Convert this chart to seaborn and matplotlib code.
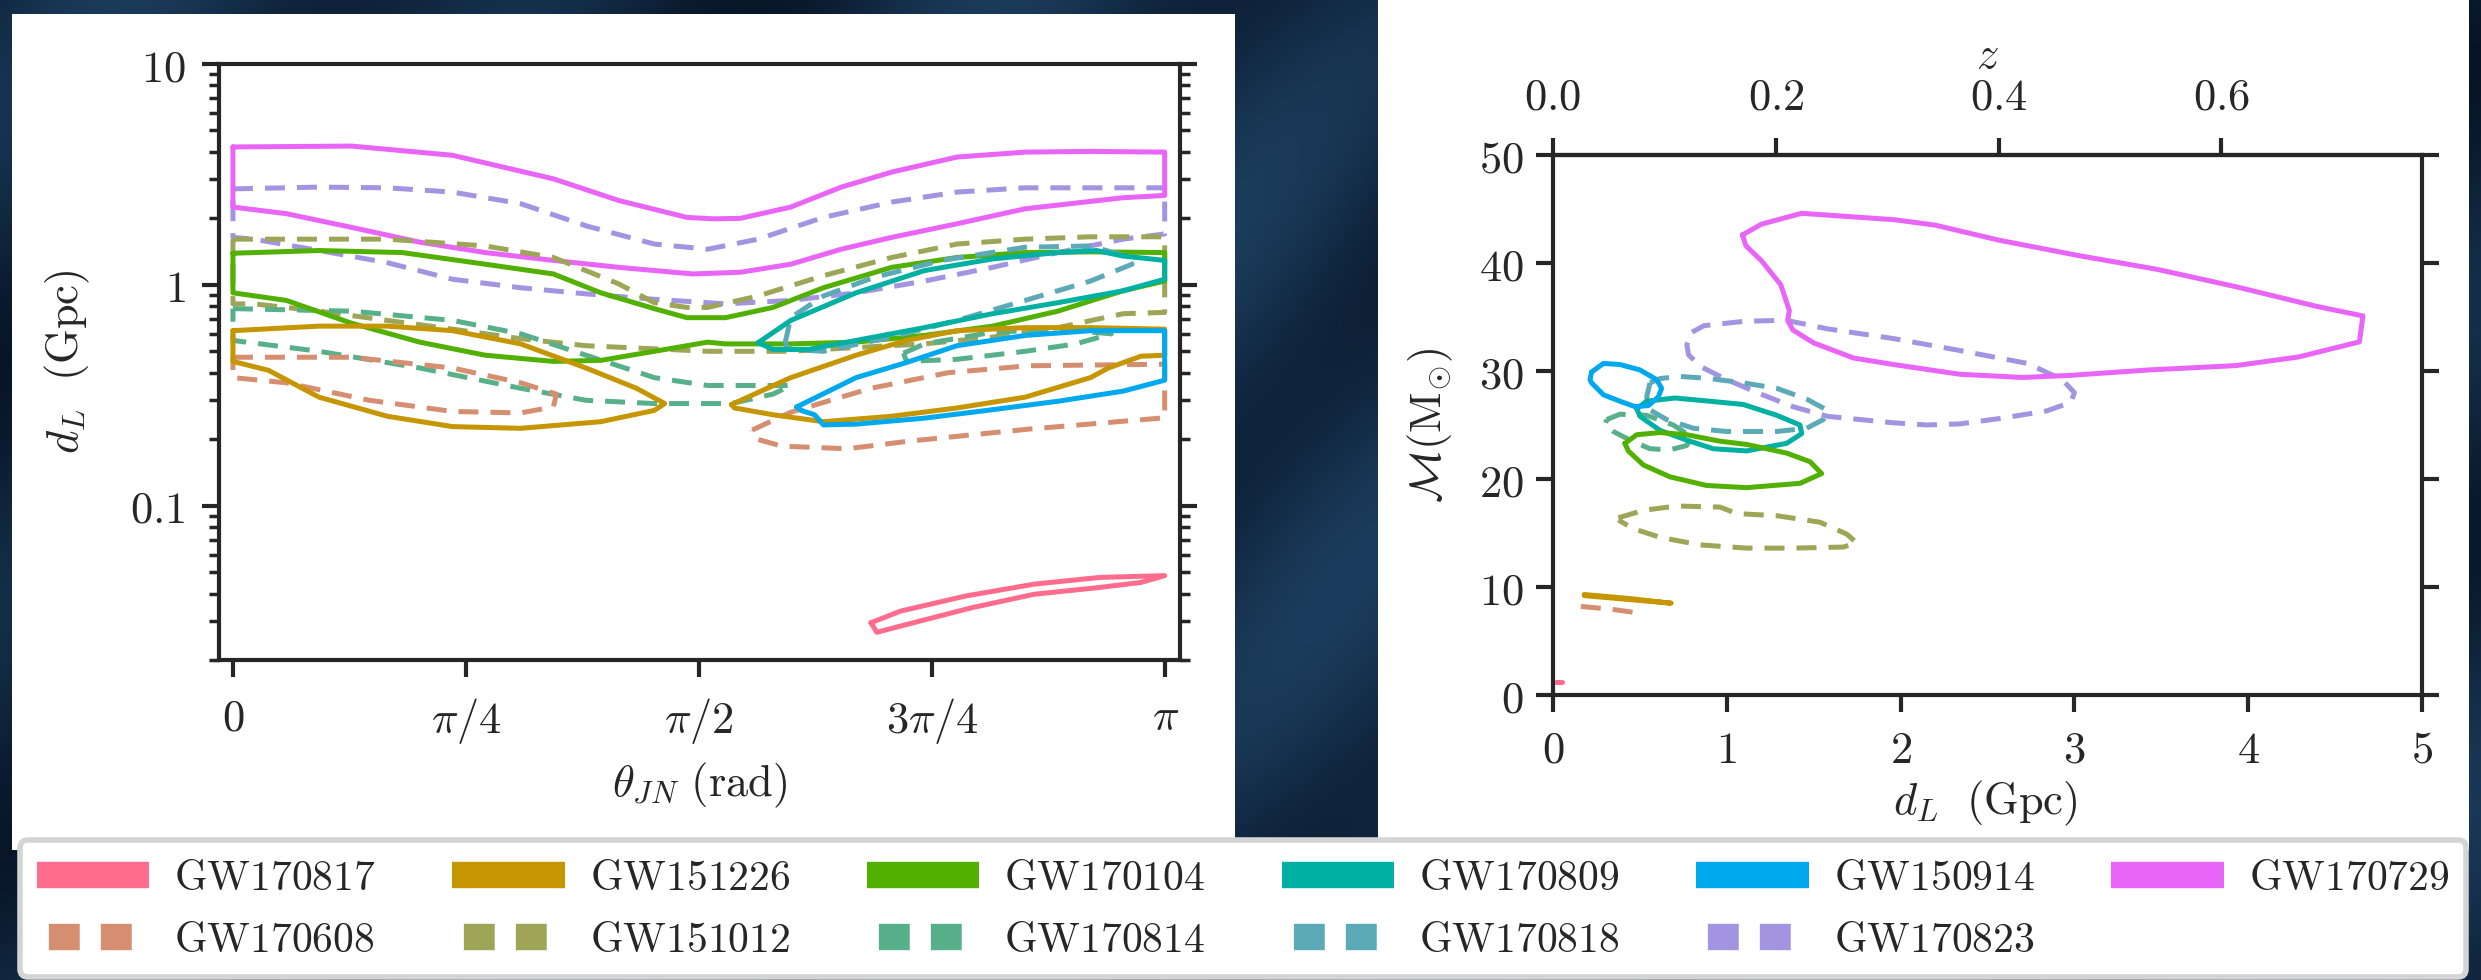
import numpy as np
import matplotlib
matplotlib.use("Agg")
import matplotlib.pyplot as plt
import seaborn as sns
from matplotlib.lines import Line2D
from matplotlib.patches import Rectangle
from matplotlib.ticker import FixedLocator, LogLocator, NullFormatter

# ---------------- data: left panel (theta_JN [rad], d_L [Gpc]) ----------------
gw170817_theta = [2.15, 2.25, 2.47, 2.70, 2.92, 3.14, 3.06, 2.92, 2.70, 2.49, 2.25, 2.17, 2.15]
gw170817_dl = [0.0295, 0.0333, 0.039, 0.0441, 0.0473, 0.0482, 0.0449, 0.0426, 0.0397, 0.0345, 0.0285, 0.0267, 0.0295]

gw151226_theta_a = [0, 0.29, 0.52, 0.74, 0.97, 1.19, 1.36, 1.455, 1.42, 1.24, 0.97, 0.74, 0.52, 0.29, 0.12, 0, 0]
gw151226_dl_a = [0.62, 0.65, 0.65, 0.62, 0.54, 0.42, 0.34, 0.29, 0.27, 0.24, 0.224, 0.228, 0.254, 0.31, 0.41, 0.45, 0.62]
gw151226_theta_b = [1.68, 1.88, 2.10, 2.27, 2.44, 2.67, 2.89, 3.14, 3.14, 3.06, 2.95, 2.89, 2.67, 2.44, 2.22, 1.99, 1.82, 1.69, 1.68]
gw151226_dl_b = [0.287, 0.38, 0.48, 0.56, 0.62, 0.64, 0.64, 0.63, 0.48, 0.475, 0.42, 0.38, 0.31, 0.277, 0.254, 0.24, 0.258, 0.277, 0.287]

gw170104_theta = [0, 0.29, 0.57, 0.85, 1.08, 1.24, 1.42, 1.53, 1.60, 1.66, 1.82, 1.99, 2.22, 2.44, 2.67, 2.89, 3.14,
                  3.14, 3.00, 2.78, 2.56, 2.33, 2.10, 1.88, 1.66, 1.60, 1.42, 1.24, 1.08, 0.85, 0.63, 0.40, 0.18, 0, 0]
gw170104_dl = [1.39, 1.43, 1.40, 1.24, 1.12, 0.92, 0.78, 0.71, 0.71, 0.71, 0.79, 0.97, 1.20, 1.33, 1.40, 1.41, 1.40,
               1.04, 0.94, 0.76, 0.65, 0.59, 0.55, 0.54, 0.54, 0.55, 0.50, 0.455, 0.45, 0.48, 0.55, 0.67, 0.85, 0.92, 1.39]

gw170809_theta = [1.77, 1.88, 2.10, 2.33, 2.56, 2.78, 2.91, 3.00, 3.14, 3.14, 3.00, 2.78, 2.56, 2.33, 2.10, 1.94, 1.82, 1.77]
gw170809_dl = [0.547, 0.69, 0.92, 1.16, 1.31, 1.40, 1.43, 1.35, 1.29, 1.06, 0.94, 0.83, 0.74, 0.64, 0.56, 0.51, 0.51, 0.547]

gw150914_theta = [1.90, 2.10, 2.27, 2.44, 2.67, 2.89, 3.14, 3.14, 3.00, 2.78, 2.56, 2.33, 2.10, 1.99, 1.96, 1.915, 1.90]
gw150914_dl = [0.28, 0.38, 0.445, 0.53, 0.59, 0.62, 0.62, 0.37, 0.33, 0.297, 0.272, 0.249, 0.234, 0.232, 0.258, 0.27, 0.28]

gw170729_theta = [0, 0.40, 0.74, 1.08, 1.30, 1.53, 1.62, 1.71, 1.88, 2.05, 2.22, 2.44, 2.67, 2.89, 3.14,
                  3.14, 3.00, 2.67, 2.44, 2.22, 2.05, 1.88, 1.71, 1.55, 1.30, 1.08, 0.85, 0.63, 0.40, 0.18, 0, 0]
gw170729_dl = [4.21, 4.25, 3.86, 3.02, 2.41, 2.02, 1.99, 2.00, 2.25, 2.77, 3.24, 3.79, 3.99, 4.02, 3.99,
               2.54, 2.48, 2.21, 1.89, 1.64, 1.45, 1.24, 1.14, 1.12, 1.20, 1.29, 1.40, 1.56, 1.82, 2.10, 2.25, 4.21]

gw170608_theta_a = [0, 0.40, 0.74, 0.97, 1.09, 1.08, 0.97, 0.74, 0.46, 0.18, 0, 0]
gw170608_dl_a = [0.47, 0.47, 0.42, 0.36, 0.32, 0.28, 0.263, 0.267, 0.30, 0.36, 0.38, 0.47]
gw170608_theta_b = [1.75, 1.88, 2.15, 2.41, 2.68, 3.14, 3.14, 2.68, 2.28, 2.07, 1.85, 1.76, 1.75]
gw170608_dl_b = [0.22, 0.265, 0.34, 0.40, 0.43, 0.437, 0.25, 0.222, 0.196, 0.181, 0.186, 0.201, 0.22]

gw151012_theta = [0, 0.52, 0.85, 1.08, 1.30, 1.42, 1.53, 1.60, 1.77, 1.99, 2.22, 2.44, 2.67, 2.89, 3.14,
                  3.14, 3.00, 2.78, 2.56, 2.33, 2.10, 1.88, 1.60, 1.19, 0.97, 0.74, 0.52, 0.29, 0.07, 0, 0]
gw151012_dl = [1.61, 1.61, 1.50, 1.33, 1.01, 0.83, 0.79, 0.79, 0.89, 1.10, 1.33, 1.53, 1.61, 1.65, 1.65,
               0.75, 0.74, 0.64, 0.58, 0.54, 0.52, 0.50, 0.50, 0.53, 0.57, 0.63, 0.69, 0.76, 0.82, 0.82, 1.61]

gw170814_theta_a = [0, 0.40, 0.74, 0.97, 1.19, 1.42, 1.60, 1.88, 1.82, 1.68, 1.54, 1.42, 1.19, 0.97, 0.63, 0.29, 0, 0]
gw170814_dl_a = [0.78, 0.76, 0.69, 0.60, 0.48, 0.38, 0.35, 0.35, 0.32, 0.29, 0.29, 0.29, 0.30, 0.34, 0.42, 0.50, 0.56, 0.78]
gw170814_theta_b = [2.26, 2.33, 2.56, 2.78, 2.96, 2.84, 2.67, 2.44, 2.27, 2.26]
gw170814_dl_b = [0.49, 0.54, 0.61, 0.63, 0.60, 0.54, 0.50, 0.46, 0.45, 0.49]

gw170818_theta = [1.86, 1.88, 1.99, 2.16, 2.39, 2.67, 2.89, 3.00, 3.03, 2.89, 2.67, 2.44, 2.22, 1.99, 1.88, 1.86]
gw170818_dl = [0.54, 0.71, 0.89, 1.08, 1.29, 1.48, 1.50, 1.36, 1.24, 1.04, 0.85, 0.69, 0.58, 0.50, 0.51, 0.54]

gw170823_theta = [0, 0.29, 0.52, 0.74, 0.97, 1.19, 1.42, 1.60, 1.77, 1.99, 2.22, 2.44, 2.67, 3.14,
                  3.14, 3.00, 2.78, 2.56, 2.33, 2.10, 1.88, 1.66, 1.42, 1.19, 0.97, 0.74, 0.52, 0.29, 0.07, 0, 0]
gw170823_dl = [2.72, 2.77, 2.75, 2.63, 2.33, 1.85, 1.53, 1.45, 1.61, 2.02, 2.37, 2.63, 2.75, 2.75,
               1.70, 1.61, 1.40, 1.20, 1.04, 0.92, 0.85, 0.82, 0.86, 0.91, 0.97, 1.06, 1.26, 1.43, 1.61, 1.64, 2.72]

# ---------------- data: right panel (d_L [Gpc], chirp mass [Msun]) ----------------
gw170817_dist = [0.02, 0.037, 0.05]
gw170817_mc = [1.19, 1.19, 1.19]

gw151226_dist = [0.18, 0.43, 0.68, 0.43, 0.18]
gw151226_mc = [9.3, 8.95, 8.5, 8.85, 9.2]

gw170608_dist = [0.16, 0.33, 0.49]
gw170608_mc = [8.2, 7.95, 7.6]

gw170104_dist = [0.414, 0.482, 0.616, 0.769, 0.961, 1.114, 1.344, 1.479, 1.546, 1.421, 1.114, 0.884, 0.673, 0.520, 0.433, 0.414]
gw170104_mc = [23.3, 24.1, 24.3, 24.1, 23.5, 23.2, 22.4, 21.6, 20.5, 19.6, 19.2, 19.4, 20.2, 21.3, 22.6, 23.3]

gw170809_dist = [0.482, 0.539, 0.702, 0.903, 1.095, 1.287, 1.421, 1.431, 1.344, 1.114, 0.923, 0.769, 0.616, 0.501, 0.482]
gw170809_mc = [26.5, 27.2, 27.5, 27.2, 26.9, 25.9, 25.0, 24.2, 23.3, 22.6, 22.8, 23.6, 24.5, 25.8, 26.5]

gw150914_dist = [0.222, 0.29, 0.385, 0.50, 0.596, 0.625, 0.606, 0.549, 0.472, 0.385, 0.29, 0.222, 0.213, 0.222]
gw150914_mc = [29.9, 30.7, 30.6, 30.1, 29.2, 28.4, 27.6, 26.8, 26.7, 27.2, 27.8, 28.9, 29.2, 29.9]

gw170729_dist = [1.09, 1.20, 1.43, 1.97, 2.20, 2.57, 3.02, 3.48, 3.93, 4.39, 4.66, 4.65, 4.64, 4.29, 3.93, 3.43,
                 2.98, 2.70, 2.34, 1.96, 1.73, 1.50, 1.38, 1.35, 1.36, 1.31, 1.20, 1.11, 1.09]
gw170729_mc = [42.6, 43.6, 44.6, 44.0, 43.5, 42.1, 40.7, 39.4, 37.8, 36.0, 35.1, 33.9, 32.7, 31.3, 30.5, 30.1,
               29.6, 29.4, 29.7, 30.6, 31.2, 32.6, 33.8, 34.7, 35.6, 38.0, 40.2, 41.6, 42.6]

gw151012_dist = [0.376, 0.520, 0.712, 0.961, 1.057, 1.287, 1.536, 1.690, 1.747, 1.671, 1.383, 1.114, 0.846, 0.616, 0.462, 0.376]
gw151012_mc = [16.4, 17.1, 17.5, 17.4, 16.8, 16.6, 16.0, 14.9, 14.1, 13.7, 13.6, 13.6, 13.9, 14.6, 15.4, 16.2]

gw170814_dist = [0.309, 0.385, 0.539, 0.692, 0.798, 0.769, 0.673, 0.558, 0.443, 0.347, 0.299, 0.309]
gw170814_mc = [25.5, 26.0, 25.9, 25.0, 23.9, 23.1, 22.7, 22.8, 23.6, 24.4, 25.0, 25.5]

gw170818_dist = [0.558, 0.616, 0.731, 0.903, 1.095, 1.287, 1.459, 1.575, 1.555, 1.459, 1.287, 0.999, 0.807, 0.654, 0.558, 0.539, 0.558]
gw170818_mc = [28.9, 29.3, 29.5, 29.3, 28.9, 28.4, 27.4, 26.4, 25.5, 24.7, 24.4, 24.4, 24.7, 25.5, 26.4, 27.6, 28.9]

gw170823_dist = [0.80, 0.87, 1.10, 1.34, 1.58, 1.96, 2.34, 2.73, 2.93, 3.00, 2.98, 2.84, 2.57, 2.34, 2.15, 1.96,
                 1.58, 1.38, 1.19, 1.00, 0.85, 0.78, 0.77, 0.80]
gw170823_mc = [33.6, 34.2, 34.6, 34.7, 33.9, 33.0, 31.9, 30.7, 29.2, 28.0, 27.1, 26.3, 25.6, 25.1, 25.0, 25.2,
               25.8, 26.7, 27.9, 29.2, 30.4, 31.5, 32.4, 33.6]

# ---------------- labels / ticks ----------------
event_names = ["GW170817", "GW170608", "GW151226", "GW151012", "GW170104",
               "GW170814", "GW170809", "GW170818", "GW150914", "GW170823", "GW170729"]
theta_ticks = [0, np.pi / 4, np.pi / 2, 3 * np.pi / 4, np.pi]
theta_ticklabels = [r"$0$", r"$\pi/4$", r"$\pi/2$", r"$3\pi/4$", r"$\pi$"]
dl_ticks = [0.1, 1, 10]
dl_ticklabels = [r"$0.1$", r"$1$", r"$10$"]
dist_ticks = [0, 1, 2, 3, 4, 5]
mc_ticks = [0, 10, 20, 30, 40, 50]
z_ticks = [0.0, 0.2, 0.4, 0.6]

# ---------------- styles ----------------
colors = {
    "GW170817": "#FF6C8E", "GW151226": "#C59600", "GW170104": "#52B000",
    "GW170809": "#00B0A3", "GW150914": "#00A8EE", "GW170729": "#E865F7",
    "GW170608": "#D68E70", "GW151012": "#9FA556", "GW170814": "#58B08A",
    "GW170818": "#5CAAB8", "GW170823": "#A294E0",
}
dashed_events = {"GW170608", "GW151012", "GW170814", "GW170818", "GW170823"}

left_data = {
    "GW170823": [(gw170823_theta, gw170823_dl)],
    "GW170729": [(gw170729_theta, gw170729_dl)],
    "GW151012": [(gw151012_theta, gw151012_dl)],
    "GW170814": [(gw170814_theta_a, gw170814_dl_a), (gw170814_theta_b, gw170814_dl_b)],
    "GW170608": [(gw170608_theta_a, gw170608_dl_a), (gw170608_theta_b, gw170608_dl_b)],
    "GW170104": [(gw170104_theta, gw170104_dl)],
    "GW151226": [(gw151226_theta_a, gw151226_dl_a), (gw151226_theta_b, gw151226_dl_b)],
    "GW170818": [(gw170818_theta, gw170818_dl)],
    "GW170809": [(gw170809_theta, gw170809_dl)],
    "GW150914": [(gw150914_theta, gw150914_dl)],
    "GW170817": [(gw170817_theta, gw170817_dl)],
}
right_data = {
    "GW170823": (gw170823_dist, gw170823_mc),
    "GW170729": (gw170729_dist, gw170729_mc),
    "GW151012": (gw151012_dist, gw151012_mc),
    "GW170818": (gw170818_dist, gw170818_mc),
    "GW170814": (gw170814_dist, gw170814_mc),
    "GW170809": (gw170809_dist, gw170809_mc),
    "GW170104": (gw170104_dist, gw170104_mc),
    "GW150914": (gw150914_dist, gw150914_mc),
    "GW170608": (gw170608_dist, gw170608_mc),
    "GW151226": (gw151226_dist, gw151226_mc),
    "GW170817": (gw170817_dist, gw170817_mc),
}

sns.set_style("ticks")
plt.rcParams["font.family"] = ["DejaVu Serif"]
plt.rcParams["mathtext.fontset"] = "cm"
plt.rcParams["axes.linewidth"] = 3

W, H = 2481, 980
fig = plt.figure(figsize=(W / 100, H / 100), dpi=100)

# background (dark blue space-like image)
yy, xx = np.mgrid[0:H, 0:W]
band = 0.5 + 0.5 * np.sin((xx + 0.9 * yy) / 70.0)
band2 = 0.5 + 0.5 * np.sin((xx - 0.4 * yy) / 140.0)
base = np.array([0.03, 0.08, 0.15])
light = np.array([0.14, 0.30, 0.45])
img = base + (light - base) * (0.55 * band + 0.35 * band2)[..., None] * 0.8
img = np.clip(img, 0, 1)
bg = fig.add_axes([0, 0, 1, 1], zorder=-10)
bg.imshow(img, aspect="auto", extent=[0, 1, 0, 1], origin="upper")
bg.axis("off")


def fig_rect(x0, y0, x1, y1):
    fig.add_artist(Rectangle((x0 / W, 1 - y1 / H), (x1 - x0) / W, (y1 - y0) / H,
                             transform=fig.transFigure, facecolor="white",
                             edgecolor="none", zorder=-5))


fig_rect(12, 14, 1235, 850)
fig_rect(1378, 0, 2469, 850)

LW = 3.6
DASH = (0, (4.0, 2.4))


def draw(ax, xs, ys, name):
    ls = DASH if name in dashed_events else "-"
    sns.lineplot(x=xs, y=ys, sort=False, estimator=None, color=colors[name],
                 linewidth=LW, linestyle=ls, ax=ax, legend=False)


# ---------------- left panel ----------------
axL = fig.add_axes([219 / W, 1 - 660 / H, (1180 - 219) / W, (660 - 64) / H])
axL.set_facecolor("white")
axL.set_yscale("log")
for name, pieces in left_data.items():
    for xs, ys in pieces:
        draw(axL, xs, ys, name)
axL.set_xlim(-0.047, np.pi + 0.05)
axL.set_ylim(0.02, 10)
axL.set_xticks(theta_ticks)
axL.set_xticklabels(theta_ticklabels)
axL.yaxis.set_major_locator(FixedLocator(dl_ticks))
axL.set_yticklabels(dl_ticklabels)
axL.yaxis.set_minor_locator(LogLocator(base=10, subs=np.arange(2, 10)))
axL.yaxis.set_minor_formatter(NullFormatter())
axL.tick_params(axis="both", which="major", direction="out", length=12, width=3, labelsize=32)
axL.tick_params(axis="y", which="both", left=True, right=True)
axL.tick_params(axis="y", which="minor", direction="out", length=7, width=2.5)
axL.tick_params(axis="y", which="major", pad=12)
axL.tick_params(axis="x", which="major", pad=14, top=False)
axL.set_xlabel(r"$\theta_{JN}\ \mathrm{(rad)}$", fontsize=32)
axL.set_ylabel(r"$d_L\ \ \mathrm{(Gpc)}$", fontsize=32)
axL.xaxis.label.set_va("center")
axL.yaxis.label.set_va("center")
axL.xaxis.set_label_coords(0.5, -0.21)
axL.yaxis.set_label_coords(-0.158, 0.5)
for s in axL.spines.values():
    s.set_linewidth(3)

# ---------------- right panel ----------------
axR = fig.add_axes([1553 / W, 1 - 695 / H, (2422 - 1553) / W, (695 - 155) / H])
axR.set_facecolor("white")
for name, (xs, ys) in right_data.items():
    draw(axR, xs, ys, name)
axR.set_xlim(0, 5)
axR.set_ylim(0, 50)
axR.set_xticks(dist_ticks)
axR.set_xticklabels([f"${t}$" for t in dist_ticks])
axR.set_yticks(mc_ticks)
axR.set_yticklabels([f"${t}$" for t in mc_ticks])
axR.tick_params(axis="both", which="major", direction="out", length=12, width=3, labelsize=32)
axR.tick_params(axis="y", right=True, pad=9)
axR.tick_params(axis="x", pad=12)
axR.set_xlabel(r"$d_L\ \ \mathrm{(Gpc)}$", fontsize=32)
axR.set_ylabel(r"$\mathcal{M}(\mathrm{M}_{\odot})$", fontsize=32)
axR.xaxis.label.set_va("center")
axR.yaxis.label.set_va("center")
axR.xaxis.set_label_coords(0.497, -0.2)
axR.yaxis.set_label_coords(-0.1415, 0.5)
for s in axR.spines.values():
    s.set_linewidth(3)

secax = axR.secondary_xaxis("top", functions=(lambda d: d / 6.41, lambda z: z * 6.41))
secax.set_xticks(z_ticks)
secax.set_xticklabels([f"${t:.1f}$" for t in z_ticks])
secax.tick_params(axis="x", direction="out", length=12, width=3, labelsize=32, pad=14)
for s in secax.spines.values():
    s.set_linewidth(3)
axR.text(0.5, (695 - 55) / 540, r"$z$", transform=axR.transAxes,
         ha="center", va="center", fontsize=32)

# ---------------- legend ----------------
handles = []
for name in event_names:
    if name in dashed_events:
        h = Line2D([], [], color=colors[name], linewidth=19,
                   linestyle=(1.52, (1.17, 0.8)), dash_capstyle="butt")
    else:
        h = Line2D([], [], color=colors[name], linewidth=19, solid_capstyle="butt")
    handles.append(h)
labels = [r"$\mathrm{" + n + "}$" for n in event_names]
leg = fig.legend(handles, labels, loc="upper left", ncol=6, mode="expand",
                 bbox_to_anchor=(20 / W, 0.0, 2446 / W, 1 - 840 / H),
                 borderaxespad=0.0,
                 fontsize=30, handlelength=2.7, handletextpad=0.6,
                 labelspacing=0.48, borderpad=0.4, frameon=True, fancybox=True,
                 framealpha=1.0, facecolor="white", edgecolor="#d4d4d4")
leg.get_frame().set_linewidth(4)

fig.savefig("out.png", dpi=100)
